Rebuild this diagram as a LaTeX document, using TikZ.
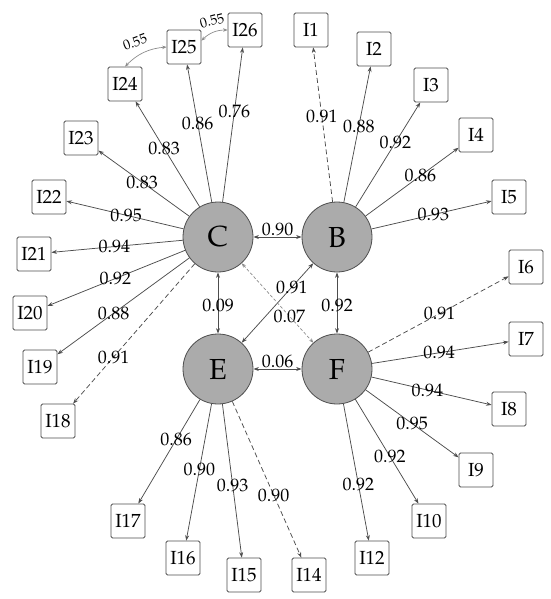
\documentclass[tikz,border=0pt]{standalone}
\usepackage[T1]{fontenc}
\usepackage{mathpazo}
\usetikzlibrary{arrows.meta}
\definecolor{ln}{HTML}{4D4D4D}
\definecolor{lt}{HTML}{8C8C8C}
\definecolor{cf}{HTML}{ABABAB}
\newcommand\edgelbl[4]{\path (#1.center) -- (#2.center) node[lab,pos=#3]{#4};}
\begin{document}
\begin{tikzpicture}[x=1pt,y=-1pt,
 lat/.style={circle,draw=ln,fill=cf,minimum size=70pt,inner sep=0pt,font=\fontsize{29}{30}\selectfont,line width=0.8pt},
 item/.style={draw=ln,rounded corners=1.5pt,minimum size=34pt,inner sep=0pt,font=\fontsize{19}{20}\selectfont,line width=0.8pt},
 arr/.style={draw=ln,line width=0.75pt,-{Stealth[length=5.5pt,width=4pt]}},
 darr/.style={arr,dash pattern=on 5pt off 3pt},
 dbl/.style={draw=ln,line width=0.75pt,{Stealth[length=5.5pt,width=4pt]}-{Stealth[length=5.5pt,width=4pt]}},
 ldbl/.style={draw=lt,line width=0.7pt,{Stealth[length=4.5pt,width=3.5pt]}-{Stealth[length=4.5pt,width=3.5pt]}},
 lab/.style={font=\fontsize{18}{19}\selectfont,inner sep=1pt},
 slab/.style={font=\fontsize{14}{15}\selectfont,inner sep=0pt},
]
\useasboundingbox (0,0) rectangle (550,599);
% latent variables
\node[lat] (C) at (218,237) {C};
\node[lat] (B) at (337,237) {B};
\node[lat] (E) at (218,369) {E};
\node[lat] (F) at (337,369) {F};
% items
\node[item] (I1) at (311,30) {I1};
\node[item] (I2) at (374,49) {I2};
\node[item] (I3) at (431,85) {I3};
\node[item] (I4) at (476,135) {I4};
\node[item] (I5) at (509,197) {I5};
\node[item] (I6) at (526,267) {I6};
\node[item] (I7) at (526,339) {I7};
\node[item] (I8) at (509,409) {I8};
\node[item] (I9) at (476,470) {I9};
\node[item] (I10) at (429,521) {I10};
\node[item] (I12) at (372,558) {I12};
\node[item] (I14) at (309,575) {I14};
\node[item] (I15) at (244,575) {I15};
\node[item] (I16) at (183,558) {I16};
\node[item] (I17) at (128,521) {I17};
\node[item] (I18) at (58,421) {I18};
\node[item] (I19) at (40,367) {I19};
\node[item] (I20) at (30,313) {I20};
\node[item] (I21) at (34,254) {I21};
\node[item] (I22) at (49,197) {I22};
\node[item] (I23) at (81,138) {I23};
\node[item] (I24) at (125,84) {I24};
\node[item] (I25) at (184,47) {I25};
\node[item] (I26) at (245,30) {I26};
% B loadings
\draw[darr] (B) -- (I1);
\draw[arr] (B) -- (I2);
\draw[arr] (B) -- (I3);
\draw[arr] (B) -- (I4);
\draw[arr] (B) -- (I5);
\edgelbl{B}{I1}{0.581}{0.91}
\edgelbl{B}{I2}{0.588}{0.88}
\edgelbl{B}{I3}{0.62}{0.92}
\edgelbl{B}{I4}{0.60}{0.86}
\edgelbl{B}{I5}{0.56}{0.93}
% F loadings
\draw[darr] (F) -- (I6);
\draw[arr] (F) -- (I7);
\draw[arr] (F) -- (I8);
\draw[arr] (F) -- (I9);
\draw[arr] (F) -- (I10);
\draw[arr] (F) -- (I12);
\edgelbl{F}{I6}{0.543}{0.91}
\edgelbl{F}{I7}{0.54}{0.94}
\edgelbl{F}{I8}{0.525}{0.94}
\edgelbl{F}{I9}{0.54}{0.95}
\edgelbl{F}{I10}{0.576}{0.92}
\edgelbl{F}{I12}{0.61}{0.92}
% E loadings
\draw[arr] (E) -- (I17);
\draw[arr] (E) -- (I16);
\draw[arr] (E) -- (I15);
\draw[darr] (E) -- (I14);
\edgelbl{E}{I17}{0.466}{0.86}
\edgelbl{E}{I16}{0.53}{0.90}
\edgelbl{E}{I15}{0.566}{0.93}
\edgelbl{E}{I14}{0.612}{0.90}
% C loadings
\draw[darr] (C) -- (I18);
\draw[arr] (C) -- (I19);
\draw[arr] (C) -- (I20);
\draw[arr] (C) -- (I21);
\draw[arr] (C) -- (I22);
\draw[arr] (C) -- (I23);
\draw[arr] (C) -- (I24);
\draw[arr] (C) -- (I25);
\draw[arr] (C) -- (I26);
\edgelbl{C}{I18}{0.652}{0.91}
\edgelbl{C}{I19}{0.587}{0.88}
\edgelbl{C}{I20}{0.546}{0.92}
\edgelbl{C}{I21}{0.563}{0.94}
\edgelbl{C}{I22}{0.543}{0.95}
\edgelbl{C}{I23}{0.554}{0.83}
\edgelbl{C}{I24}{0.58}{0.83}
\edgelbl{C}{I25}{0.60}{0.86}
\edgelbl{C}{I26}{0.605}{0.76}
% correlations between latent variables
\draw[dbl] (C) -- node[lab,above]{0.90} (B);
\draw[dbl] (E) -- node[lab,above]{0.06} (F);
\draw[dbl] (C) -- (E);
\draw[dbl] (B) -- (F);
\draw[dbl] (B) -- (E);
\draw[ldbl,dash pattern=on 3pt off 2pt] (C) -- (F);
\edgelbl{C}{E}{0.52}{0.09}
\edgelbl{B}{F}{0.52}{0.92}
\edgelbl{B}{E}{0.38}{0.91}
\edgelbl{C}{F}{0.60}{0.07}
% residual correlations
\draw[ldbl] (I24.north) to[bend left=20] (I25.west);
\draw[ldbl] (I25.20) to[bend left=22] (I26.west);
\node[slab,rotate=20] (r1) at (135,42) {0.55};
\node[slab,rotate=15] (r2) at (212,21) {0.55};
\end{tikzpicture}
\end{document}
